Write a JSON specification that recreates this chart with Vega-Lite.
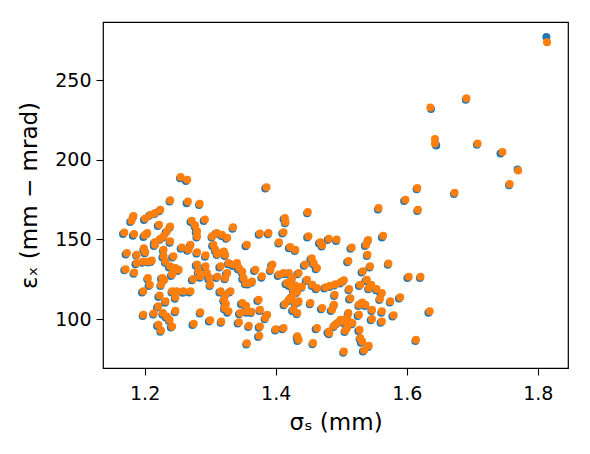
{
  "$schema": "https://vega.github.io/schema/vega-lite/v6.json",
  "width": 465,
  "height": 346,
  "autosize": {"type": "none"},
  "padding": {"left": 103, "top": 22, "right": 22, "bottom": 86},
  "background": "white",
  "config": {
    "view": {"stroke": "black", "strokeWidth": 1.2},
    "font": "DejaVu Sans",
    "axis": {
      "domain": false,
      "grid": false,
      "ticks": true,
      "tickColor": "black",
      "tickSize": 7,
      "tickWidth": 1.1,
      "labelColor": "black",
      "labelFont": "DejaVu Sans",
      "labelFontSize": 19,
      "labelPadding": 5,
      "titleColor": "black",
      "titleFont": "DejaVu Sans",
      "titleFontSize": 23,
      "titleFontWeight": "normal"
    }
  },
  "data": {
    "values": [
      {"s":1.169,"e":154.3,"bs":1.167,"be":153.5},
      {"s":1.180,"e":161.8,"bs":1.178,"be":161.0},
      {"s":1.183,"e":164.7,"bs":1.182,"be":164.0},
      {"s":1.173,"e":141.5,"bs":1.171,"be":140.6},
      {"s":1.171,"e":131.3,"bs":1.169,"be":130.6},
      {"s":1.184,"e":153.5,"bs":1.182,"be":152.3},
      {"s":1.184,"e":129.3,"bs":1.183,"be":128.5},
      {"s":1.188,"e":135.2,"bs":1.186,"be":134.4},
      {"s":1.188,"e":140.4,"bs":1.187,"be":139.9},
      {"s":1.198,"e":136.2,"bs":1.196,"be":135.3},
      {"s":1.199,"e":144.5,"bs":1.198,"be":143.6},
      {"s":1.201,"e":163.1,"bs":1.199,"be":162.3},
      {"s":1.200,"e":152.6,"bs":1.198,"be":151.5},
      {"s":1.204,"e":154.1,"bs":1.203,"be":153.4},
      {"s":1.198,"e":117.4,"bs":1.196,"be":116.6},
      {"s":1.198,"e":102.7,"bs":1.197,"be":101.9},
      {"s":1.206,"e":136.2,"bs":1.205,"be":135.5},
      {"s":1.211,"e":136.7,"bs":1.209,"be":135.8},
      {"s":1.201,"e":142.1,"bs":1.200,"be":141.3},
      {"s":1.209,"e":165.6,"bs":1.207,"be":164.9},
      {"s":1.216,"e":166.7,"bs":1.215,"be":166.0},
      {"s":1.224,"e":168.7,"bs":1.222,"be":167.8},
      {"s":1.205,"e":125.8,"bs":1.204,"be":125.0},
      {"s":1.208,"e":121.6,"bs":1.206,"be":120.7},
      {"s":1.214,"e":103.6,"bs":1.213,"be":102.8},
      {"s":1.216,"e":148.4,"bs":1.214,"be":147.5},
      {"s":1.224,"e":150.5,"bs":1.223,"be":149.8},
      {"s":1.229,"e":152.0,"bs":1.228,"be":151.2},
      {"s":1.234,"e":155.1,"bs":1.232,"be":154.4},
      {"s":1.239,"e":158.2,"bs":1.238,"be":157.3},
      {"s":1.222,"e":159.3,"bs":1.220,"be":158.5},
      {"s":1.223,"e":114.7,"bs":1.221,"be":113.9},
      {"s":1.232,"e":111.1,"bs":1.231,"be":110.2},
      {"s":1.221,"e":108.0,"bs":1.219,"be":107.3},
      {"s":1.228,"e":103.8,"bs":1.227,"be":102.9},
      {"s":1.234,"e":101.6,"bs":1.232,"be":100.9},
      {"s":1.238,"e":99.6,"bs":1.237,"be":98.7},
      {"s":1.221,"e":96.4,"bs":1.219,"be":95.6},
      {"s":1.225,"e":92.8,"bs":1.224,"be":92.0},
      {"s":1.227,"e":125.8,"bs":1.225,"be":125.1},
      {"s":1.225,"e":121.6,"bs":1.224,"be":120.8},
      {"s":1.230,"e":124.7,"bs":1.228,"be":123.9},
      {"s":1.229,"e":143.6,"bs":1.228,"be":142.8},
      {"s":1.229,"e":139.4,"bs":1.227,"be":138.6},
      {"s":1.232,"e":136.2,"bs":1.231,"be":135.4},
      {"s":1.216,"e":146.7,"bs":1.214,"be":145.9},
      {"s":1.239,"e":148.8,"bs":1.238,"be":148.0},
      {"s":1.239,"e":133.1,"bs":1.237,"be":132.4},
      {"s":1.247,"e":132.1,"bs":1.246,"be":131.3},
      {"s":1.252,"e":131.0,"bs":1.250,"be":130.1},
      {"s":1.244,"e":129.9,"bs":1.243,"be":129.2},
      {"s":1.242,"e":127.9,"bs":1.240,"be":127.0},
      {"s":1.242,"e":117.4,"bs":1.241,"be":116.6},
      {"s":1.249,"e":117.4,"bs":1.247,"be":116.7},
      {"s":1.259,"e":117.4,"bs":1.258,"be":116.5},
      {"s":1.270,"e":117.4,"bs":1.268,"be":116.7},
      {"s":1.247,"e":113.7,"bs":1.246,"be":112.8},
      {"s":1.242,"e":95.3,"bs":1.240,"be":94.6},
      {"s":1.247,"e":105.2,"bs":1.246,"be":104.3},
      {"s":1.244,"e":139.4,"bs":1.242,"be":138.7},
      {"s":1.255,"e":189.2,"bs":1.254,"be":188.5},
      {"s":1.265,"e":187.6,"bs":1.263,"be":186.8},
      {"s":1.239,"e":174.7,"bs":1.238,"be":173.9},
      {"s":1.266,"e":173.8,"bs":1.264,"be":172.8},
      {"s":1.284,"e":172.5,"bs":1.283,"be":171.6},
      {"s":1.257,"e":145.0,"bs":1.255,"be":144.2},
      {"s":1.270,"e":146.7,"bs":1.269,"be":145.9},
      {"s":1.267,"e":143.6,"bs":1.265,"be":142.9},
      {"s":1.280,"e":142.0,"bs":1.279,"be":141.1},
      {"s":1.272,"e":161.8,"bs":1.270,"be":161.0},
      {"s":1.277,"e":159.0,"bs":1.276,"be":158.2},
      {"s":1.280,"e":155.1,"bs":1.278,"be":154.3},
      {"s":1.280,"e":152.0,"bs":1.279,"be":151.3},
      {"s":1.292,"e":162.5,"bs":1.290,"be":161.6},
      {"s":1.303,"e":152.0,"bs":1.302,"be":151.2},
      {"s":1.310,"e":154.1,"bs":1.308,"be":153.4},
      {"s":1.318,"e":153.0,"bs":1.317,"be":152.1},
      {"s":1.326,"e":151.1,"bs":1.324,"be":150.4},
      {"s":1.335,"e":157.6,"bs":1.334,"be":156.8},
      {"s":1.376,"e":153.7,"bs":1.374,"be":152.9},
      {"s":1.389,"e":154.1,"bs":1.388,"be":153.3},
      {"s":1.280,"e":134.2,"bs":1.278,"be":133.4},
      {"s":1.282,"e":129.9,"bs":1.281,"be":129.1},
      {"s":1.293,"e":133.1,"bs":1.291,"be":132.2},
      {"s":1.295,"e":128.9,"bs":1.294,"be":128.1},
      {"s":1.274,"e":125.2,"bs":1.272,"be":124.4},
      {"s":1.285,"e":126.8,"bs":1.284,"be":126.0},
      {"s":1.299,"e":125.8,"bs":1.297,"be":125.0},
      {"s":1.300,"e":121.6,"bs":1.299,"be":120.8},
      {"s":1.311,"e":126.6,"bs":1.309,"be":125.7},
      {"s":1.293,"e":140.0,"bs":1.292,"be":139.2},
      {"s":1.305,"e":146.7,"bs":1.303,"be":145.9},
      {"s":1.308,"e":143.6,"bs":1.307,"be":142.8},
      {"s":1.311,"e":140.9,"bs":1.310,"be":140.2},
      {"s":1.321,"e":142.5,"bs":1.319,"be":141.7},
      {"s":1.323,"e":140.4,"bs":1.322,"be":139.6},
      {"s":1.356,"e":146.7,"bs":1.354,"be":145.8},
      {"s":1.316,"e":133.1,"bs":1.314,"be":132.4},
      {"s":1.328,"e":135.2,"bs":1.327,"be":134.4},
      {"s":1.336,"e":134.2,"bs":1.334,"be":133.3},
      {"s":1.341,"e":135.2,"bs":1.340,"be":134.6},
      {"s":1.344,"e":132.1,"bs":1.342,"be":131.3},
      {"s":1.349,"e":129.9,"bs":1.348,"be":129.1},
      {"s":1.351,"e":125.8,"bs":1.349,"be":125.0},
      {"s":1.354,"e":122.6,"bs":1.353,"be":121.8},
      {"s":1.359,"e":122.6,"bs":1.357,"be":121.7},
      {"s":1.364,"e":123.6,"bs":1.363,"be":122.8},
      {"s":1.326,"e":128.9,"bs":1.324,"be":128.1},
      {"s":1.323,"e":125.8,"bs":1.322,"be":125.0},
      {"s":1.369,"e":131.0,"bs":1.367,"be":130.2},
      {"s":1.379,"e":126.8,"bs":1.378,"be":126.0},
      {"s":1.316,"e":117.4,"bs":1.314,"be":116.6},
      {"s":1.323,"e":115.3,"bs":1.322,"be":114.5},
      {"s":1.331,"e":117.4,"bs":1.329,"be":116.6},
      {"s":1.321,"e":112.1,"bs":1.320,"be":111.3},
      {"s":1.324,"e":109.5,"bs":1.322,"be":108.7},
      {"s":1.322,"e":106.9,"bs":1.321,"be":106.1},
      {"s":1.328,"e":104.8,"bs":1.326,"be":104.0},
      {"s":1.349,"e":110.1,"bs":1.347,"be":109.3},
      {"s":1.355,"e":108.3,"bs":1.354,"be":107.5},
      {"s":1.346,"e":103.8,"bs":1.344,"be":103.0},
      {"s":1.356,"e":104.8,"bs":1.355,"be":104.0},
      {"s":1.363,"e":104.5,"bs":1.362,"be":103.7},
      {"s":1.374,"e":112.1,"bs":1.372,"be":111.3},
      {"s":1.376,"e":105.8,"bs":1.375,"be":105.0},
      {"s":1.387,"e":102.7,"bs":1.385,"be":101.9},
      {"s":1.384,"e":100.6,"bs":1.383,"be":99.8},
      {"s":1.275,"e":97.0,"bs":1.273,"be":96.2},
      {"s":1.285,"e":104.3,"bs":1.284,"be":103.5},
      {"s":1.300,"e":99.2,"bs":1.298,"be":98.4},
      {"s":1.317,"e":98.5,"bs":1.316,"be":97.7},
      {"s":1.344,"e":97.9,"bs":1.342,"be":97.1},
      {"s":1.359,"e":95.8,"bs":1.358,"be":95.0},
      {"s":1.375,"e":89.5,"bs":1.373,"be":88.7},
      {"s":1.356,"e":84.8,"bs":1.355,"be":84.0},
      {"s":1.376,"e":95.3,"bs":1.374,"be":94.5},
      {"s":1.400,"e":93.6,"bs":1.399,"be":92.8},
      {"s":1.412,"e":94.3,"bs":1.410,"be":93.5},
      {"s":1.433,"e":89.1,"bs":1.432,"be":88.3},
      {"s":1.435,"e":87.0,"bs":1.433,"be":86.2},
      {"s":1.457,"e":84.9,"bs":1.456,"be":84.1},
      {"s":1.463,"e":94.3,"bs":1.461,"be":93.5},
      {"s":1.482,"e":91.2,"bs":1.481,"be":90.4},
      {"s":1.405,"e":127.9,"bs":1.403,"be":127.1},
      {"s":1.412,"e":128.9,"bs":1.411,"be":128.1},
      {"s":1.420,"e":128.9,"bs":1.418,"be":128.1},
      {"s":1.425,"e":125.8,"bs":1.424,"be":125.0},
      {"s":1.422,"e":121.6,"bs":1.420,"be":120.8},
      {"s":1.427,"e":118.4,"bs":1.426,"be":117.6},
      {"s":1.425,"e":114.2,"bs":1.423,"be":113.4},
      {"s":1.420,"e":112.1,"bs":1.419,"be":111.3},
      {"s":1.414,"e":109.4,"bs":1.412,"be":108.6},
      {"s":1.435,"e":128.9,"bs":1.433,"be":128.1},
      {"s":1.440,"e":120.5,"bs":1.439,"be":119.7},
      {"s":1.433,"e":117.2,"bs":1.431,"be":116.4},
      {"s":1.430,"e":110.1,"bs":1.429,"be":109.3},
      {"s":1.427,"e":105.8,"bs":1.425,"be":105.0},
      {"s":1.433,"e":103.8,"bs":1.432,"be":103.0},
      {"s":1.395,"e":134.2,"bs":1.393,"be":133.4},
      {"s":1.392,"e":131.0,"bs":1.391,"be":130.2},
      {"s":1.417,"e":122.6,"bs":1.415,"be":121.8},
      {"s":1.430,"e":121.0,"bs":1.428,"be":120.2},
      {"s":1.448,"e":124.7,"bs":1.446,"be":123.9},
      {"s":1.456,"e":121.6,"bs":1.455,"be":120.8},
      {"s":1.463,"e":119.5,"bs":1.461,"be":118.7},
      {"s":1.476,"e":119.9,"bs":1.474,"be":119.1},
      {"s":1.483,"e":120.9,"bs":1.482,"be":120.1},
      {"s":1.491,"e":121.9,"bs":1.489,"be":121.1},
      {"s":1.499,"e":123.1,"bs":1.498,"be":122.3},
      {"s":1.504,"e":124.3,"bs":1.502,"be":123.5},
      {"s":1.512,"e":118.9,"bs":1.511,"be":118.1},
      {"s":1.445,"e":134.2,"bs":1.443,"be":133.4},
      {"s":1.458,"e":135.2,"bs":1.457,"be":134.4},
      {"s":1.463,"e":132.1,"bs":1.461,"be":131.3},
      {"s":1.455,"e":138.2,"bs":1.453,"be":137.4},
      {"s":1.386,"e":182.9,"bs":1.384,"be":182.1},
      {"s":1.449,"e":167.3,"bs":1.448,"be":166.5},
      {"s":1.414,"e":163.5,"bs":1.412,"be":162.7},
      {"s":1.415,"e":161.0,"bs":1.414,"be":160.2},
      {"s":1.412,"e":154.6,"bs":1.410,"be":153.8},
      {"s":1.405,"e":148.2,"bs":1.404,"be":147.4},
      {"s":1.450,"e":152.0,"bs":1.448,"be":151.2},
      {"s":1.468,"e":148.3,"bs":1.466,"be":147.5},
      {"s":1.471,"e":146.4,"bs":1.470,"be":145.6},
      {"s":1.481,"e":150.5,"bs":1.479,"be":149.7},
      {"s":1.493,"e":149.9,"bs":1.492,"be":149.1},
      {"s":1.516,"e":145.0,"bs":1.514,"be":144.2},
      {"s":1.541,"e":149.6,"bs":1.540,"be":148.8},
      {"s":1.538,"e":146.7,"bs":1.536,"be":145.9},
      {"s":1.564,"e":152.4,"bs":1.562,"be":151.2},
      {"s":1.540,"e":140.4,"bs":1.539,"be":139.6},
      {"s":1.511,"e":136.5,"bs":1.509,"be":135.7},
      {"s":1.572,"e":134.9,"bs":1.571,"be":134.1},
      {"s":1.422,"e":145.2,"bs":1.420,"be":144.4},
      {"s":1.430,"e":143.6,"bs":1.429,"be":142.8},
      {"s":1.533,"e":130.0,"bs":1.531,"be":129.2},
      {"s":1.539,"e":124.7,"bs":1.537,"be":123.9},
      {"s":1.544,"e":133.2,"bs":1.543,"be":132.4},
      {"s":1.546,"e":121.6,"bs":1.544,"be":120.8},
      {"s":1.554,"e":118.9,"bs":1.553,"be":118.1},
      {"s":1.562,"e":116.4,"bs":1.560,"be":115.6},
      {"s":1.559,"e":112.8,"bs":1.558,"be":112.0},
      {"s":1.529,"e":121.6,"bs":1.527,"be":120.8},
      {"s":1.542,"e":119.5,"bs":1.541,"be":118.7},
      {"s":1.603,"e":126.6,"bs":1.601,"be":125.8},
      {"s":1.621,"e":126.6,"bs":1.620,"be":125.8},
      {"s":1.590,"e":113.7,"bs":1.588,"be":112.9},
      {"s":1.575,"e":111.1,"bs":1.574,"be":110.3},
      {"s":1.580,"e":102.3,"bs":1.578,"be":101.5},
      {"s":1.562,"e":104.8,"bs":1.561,"be":104.0},
      {"s":1.562,"e":98.5,"bs":1.560,"be":97.7},
      {"s":1.547,"e":105.8,"bs":1.546,"be":105.0},
      {"s":1.547,"e":100.0,"bs":1.545,"be":99.2},
      {"s":1.527,"e":109.0,"bs":1.526,"be":108.2},
      {"s":1.532,"e":110.4,"bs":1.530,"be":109.6},
      {"s":1.537,"e":109.0,"bs":1.536,"be":108.2},
      {"s":1.527,"e":102.7,"bs":1.525,"be":101.9},
      {"s":1.490,"e":115.3,"bs":1.489,"be":114.5},
      {"s":1.514,"e":113.1,"bs":1.512,"be":112.3},
      {"s":1.453,"e":110.1,"bs":1.452,"be":109.3},
      {"s":1.471,"e":106.9,"bs":1.469,"be":106.1},
      {"s":1.489,"e":109.0,"bs":1.488,"be":108.2},
      {"s":1.486,"e":105.8,"bs":1.484,"be":105.0},
      {"s":1.511,"e":103.8,"bs":1.510,"be":103.0},
      {"s":1.509,"e":100.6,"bs":1.507,"be":99.8},
      {"s":1.499,"e":99.6,"bs":1.498,"be":98.8},
      {"s":1.494,"e":97.5,"bs":1.492,"be":96.7},
      {"s":1.489,"e":95.8,"bs":1.488,"be":95.0},
      {"s":1.481,"e":92.2,"bs":1.479,"be":91.4},
      {"s":1.517,"e":97.5,"bs":1.516,"be":96.7},
      {"s":1.509,"e":94.3,"bs":1.507,"be":93.5},
      {"s":1.506,"e":92.6,"bs":1.505,"be":91.8},
      {"s":1.528,"e":93.3,"bs":1.526,"be":92.5},
      {"s":1.529,"e":88.0,"bs":1.528,"be":87.2},
      {"s":1.532,"e":85.9,"bs":1.530,"be":85.1},
      {"s":1.542,"e":83.2,"bs":1.541,"be":82.4},
      {"s":1.535,"e":80.4,"bs":1.533,"be":79.6},
      {"s":1.504,"e":79.6,"bs":1.503,"be":78.8},
      {"s":1.435,"e":111.1,"bs":1.434,"be":110.3},
      {"s":1.504,"e":98.5,"bs":1.502,"be":97.7},
      {"s":1.514,"e":97.9,"bs":1.513,"be":97.1},
      {"s":1.598,"e":175.0,"bs":1.596,"be":174.2},
      {"s":1.616,"e":182.4,"bs":1.615,"be":181.6},
      {"s":1.617,"e":168.7,"bs":1.616,"be":167.9},
      {"s":1.557,"e":169.7,"bs":1.556,"be":168.9},
      {"s":1.635,"e":104.8,"bs":1.633,"be":104.0},
      {"s":1.614,"e":87.0,"bs":1.613,"be":86.2},
      {"s":1.636,"e":232.9,"bs":1.637,"be":232.0},
      {"s":1.691,"e":238.7,"bs":1.690,"be":237.9},
      {"s":1.643,"e":213.2,"bs":1.645,"be":209.0},
      {"s":1.643,"e":210.3,"bs":1.644,"be":209.5},
      {"s":1.708,"e":210.3,"bs":1.707,"be":209.5},
      {"s":1.746,"e":205.0,"bs":1.743,"be":204.0},
      {"s":1.770,"e":193.3,"bs":1.769,"be":194.0},
      {"s":1.757,"e":184.9,"bs":1.756,"be":184.1},
      {"s":1.673,"e":179.4,"bs":1.672,"be":178.6},
      {"s":1.814,"e":274.0,"bs":1.813,"be":277.3}
    ]
  },
  "layer": [
    {
      "mark": {"type": "point", "filled": true, "size": 64, "opacity": 1, "color": "#1f77b4", "strokeWidth": 0},
      "encoding": {
        "x": {"field": "bs", "type": "quantitative",
              "scale": {"domain": [1.1365, 1.846], "nice": false, "zero": false},
              "axis": {"values": [1.2, 1.4, 1.6, 1.8], "format": ".1f", "title": "σₛ (mm)", "labelPadding": 9, "titlePadding": 8}},
        "y": {"field": "be", "type": "quantitative",
              "scale": {"domain": [69.2, 286.7], "nice": false, "zero": false},
              "axis": {"values": [100, 150, 200, 250], "title": "εₓ (mm − mrad)", "titlePadding": 13}}
      }
    },
    {
      "mark": {"type": "point", "filled": true, "size": 64, "opacity": 1, "color": "#ff7f0e", "strokeWidth": 0},
      "encoding": {
        "x": {"field": "s", "type": "quantitative"},
        "y": {"field": "e", "type": "quantitative"}
      }
    }
  ]
}
